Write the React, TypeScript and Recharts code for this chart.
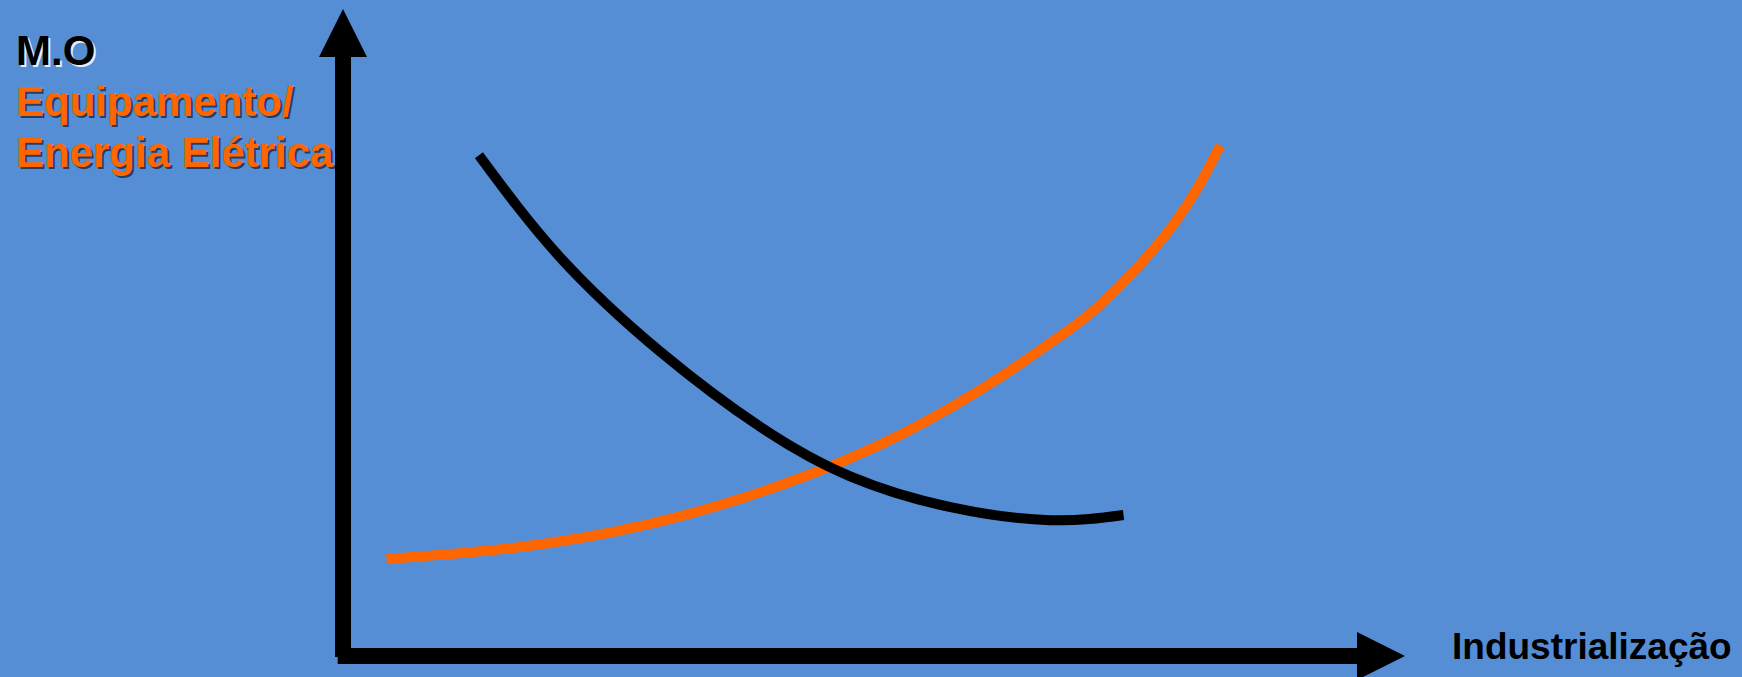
import { LineChart, Line, XAxis, YAxis, ReferenceLine, Customized } from 'recharts'

// conceptual scale 0..100 on both axes (no ticks in the original)
const maoDeObraX = [12.8, 20.4, 29.9, 39.3, 47.7, 57.2, 66.6, 73.5]
const maoDeObraY = [77.4, 61.7, 47.0, 35.4, 27.8, 23.0, 21.0, 21.8]

const equipamentoX = [4.1, 16.0, 28.6, 41.2, 52.5, 61.9, 66.6, 71.3, 78.2, 82.6]
const equipamentoY = [15.0, 16.7, 20.3, 26.4, 34.2, 43.1, 48.4, 54.3, 66.7, 78.9]

const yLabels = ['M.O', 'Equipamento/', 'Energia Elétrica']
const xLabel = 'Industrialização'

const BG = '#558ED5'
const ORANGE = '#FF6600'
const FONT = '"Liberation Sans", Arial, sans-serif'

const toPoints = (xs: number[], ys: number[]) => xs.map((x, i) => ({ x, y: ys[i] }))

const maoDeObra = toPoints(maoDeObraX, maoDeObraY)
const equipamento = toPoints(equipamentoX, equipamentoY)

interface ArrowProps {
  x1?: number
  y1?: number
  x2?: number
  y2?: number
}

// thick axis with a triangular head at the end point
function AxisArrow({ x1 = 0, y1 = 0, x2 = 0, y2 = 0 }: ArrowProps) {
  const head = 48
  const half = 24
  const len = Math.hypot(x2 - x1, y2 - y1) || 1
  const ux = (x2 - x1) / len
  const uy = (y2 - y1) / len
  const bx = x2 - ux * head
  const by = y2 - uy * head
  const pts = [
    [x2, y2],
    [bx - uy * half, by + ux * half],
    [bx + uy * half, by - ux * half],
  ].map(p => p.join(',')).join(' ')
  return (
    <g>
      <line x1={x1} y1={y1} x2={bx + ux} y2={by + uy} stroke="#000" strokeWidth={16} />
      <polygon points={pts} fill="#000" />
    </g>
  )
}

function Titles() {
  const colors = ['#000', ORANGE, ORANGE]
  const shadows = ['rgba(255,255,255,0.85)', 'rgba(20,35,60,0.75)', 'rgba(20,35,60,0.75)']
  return (
    <g fontFamily={FONT} fontWeight="bold">
      {yLabels.map((t, i) => (
        <g key={t} fontSize={42}>
          <text x={18} y={67 + i * 51} fill={shadows[i]}>{t}</text>
          <text x={16} y={65 + i * 51} fill={colors[i]}>{t}</text>
        </g>
      ))}
      <text x={1452} y={659} fontSize={37} fill="#000">{xLabel}</text>
    </g>
  )
}

export default function App() {
  return (
    <div style={{ position: 'fixed', left: 0, top: 0, width: 1742, height: 677, background: BG }}>
      <LineChart width={1742} height={677} margin={{ top: 9, right: 337, bottom: 21, left: 343 }}>
        <XAxis type="number" dataKey="x" domain={[0, 100]} hide allowDataOverflow />
        <YAxis type="number" dataKey="y" domain={[0, 100]} hide allowDataOverflow />
        <Line
          data={equipamento}
          dataKey="y"
          type="natural"
          stroke={ORANGE}
          strokeWidth={10}
          dot={false}
          activeDot={false}
          isAnimationActive={false}
        />
        <Line
          data={maoDeObra}
          dataKey="y"
          type="natural"
          stroke="#000"
          strokeWidth={10}
          dot={false}
          activeDot={false}
          isAnimationActive={false}
        />
        <ReferenceLine
          segment={[{ x: -0.5, y: 0 }, { x: 100, y: 0 }]}
          ifOverflow="visible"
          shape={AxisArrow}
        />
        <ReferenceLine
          segment={[{ x: 0, y: -0.15 }, { x: 0, y: 100 }]}
          ifOverflow="visible"
          shape={AxisArrow}
        />
        <Customized component={Titles} />
      </LineChart>
    </div>
  )
}
